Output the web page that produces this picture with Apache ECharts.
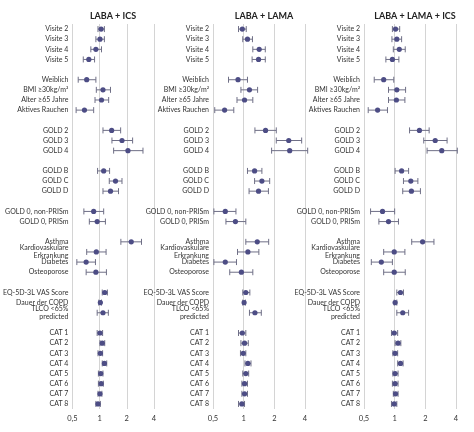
<!DOCTYPE html>
<html>
<head>
<meta charset="UTF-8">
<script src="https://cdn.jsdelivr.net/npm/echarts@6/dist/echarts.min.js"></script>
<style>html,body{margin:0;padding:0;background:#fff}#c{width:474px;height:432px}</style>
</head>
<body>
<div id="c"></div>
<script>
var titles = ['LABA + ICS', 'LABA + LAMA', 'LABA + LAMA + ICS'];
var categories = ['Visite 2', 'Visite 3', 'Visite 4', 'Visite 5', ' ',
  'Weiblich', 'BMI ≥30kg/m²', 'Alter ≥65 Jahre', 'Aktives Rauchen', '  ',
  'GOLD 2', 'GOLD 3', 'GOLD 4', '   ',
  'GOLD B', 'GOLD C', 'GOLD D', '    ',
  'GOLD 0, non-PRISm', 'GOLD 0, PRISm', '     ',
  'Asthma', 'Kardiovaskuläre\nErkrankung', 'Diabetes', 'Osteoporose', '      ',
  'EQ-5D-3L VAS Score', 'Dauer der COPD', 'TLCO <65%\npredicted', '       ',
  'CAT 1', 'CAT 2', 'CAT 3', 'CAT 4', 'CAT 5', 'CAT 6', 'CAT 7', 'CAT 8'];
var tickLabels = {0.5: '0,5', 1: '1', 2: '2', 4: '4'};

// [estimate, lower CI, upper CI]; null = spacer row
var labaIcs = [[1.04,0.96,1.13],[1.01,0.91,1.13],[0.91,0.80,1.05],[0.76,0.66,0.88],null,
  [0.72,0.58,0.91],[1.09,0.92,1.32],[1.05,0.89,1.26],[0.68,0.55,0.86],null,
  [1.36,1.09,1.71],[1.77,1.37,2.32],[2.06,1.43,3.02],null,
  [1.11,0.95,1.29],[1.50,1.28,1.77],[1.32,1.09,1.62],null,
  [0.86,0.67,1.11],[0.94,0.77,1.16],null,
  [2.24,1.72,2.91],[0.92,0.72,1.18],[0.71,0.56,0.90],[0.91,0.71,1.19],null,
  [1.14,1.07,1.22],[1.02,0.98,1.05],[1.09,0.94,1.25],null,
  [1.01,0.94,1.08],[1.07,1.01,1.14],[1.02,0.96,1.08],[1.13,1.07,1.20],
  [1.03,0.97,1.09],[1.04,0.97,1.10],[1.01,0.96,1.06],[0.96,0.91,1.02]];
var labaLama = [[0.97,0.89,1.06],[1.09,0.98,1.22],[1.42,1.23,1.63],[1.40,1.21,1.63],null,
  [0.88,0.71,1.09],[1.14,0.94,1.37],[1.02,0.86,1.23],[0.65,0.52,0.80],null,
  [1.64,1.29,2.09],[2.77,2.09,3.71],[2.83,1.88,4.25],null,
  [1.28,1.09,1.51],[1.51,1.28,1.80],[1.40,1.13,1.75],null,
  [0.66,0.51,0.84],[0.83,0.67,1.05],null,
  [1.36,1.05,1.76],[1.10,0.87,1.41],[0.66,0.51,0.85],[0.95,0.73,1.23],null,
  [1.05,0.98,1.15],[1.01,0.98,1.04],[1.29,1.14,1.49],null,
  [0.97,0.89,1.05],[1.02,0.94,1.11],[0.99,0.93,1.05],[1.10,1.03,1.18],
  [1.05,0.98,1.12],[1.02,0.96,1.09],[1.02,0.96,1.09],[0.96,0.89,1.02]];
var labaLamaIcs = [[1.02,0.95,1.12],[1.05,0.94,1.17],[1.11,0.97,1.27],[0.95,0.82,1.10],null,
  [0.78,0.63,0.98],[1.05,0.87,1.28],[1.04,0.87,1.26],[0.68,0.55,0.85],null,
  [1.75,1.40,2.18],[2.50,1.93,3.27],[2.90,2.08,4.12],null,
  [1.17,1.01,1.37],[1.44,1.22,1.69],[1.46,1.20,1.79],null,
  [0.76,0.58,1.00],[0.87,0.70,1.09],null,
  [1.88,1.47,2.43],[0.99,0.78,1.26],[0.74,0.59,0.95],[0.99,0.78,1.27],null,
  [1.14,1.05,1.22],[1.01,0.99,1.05],[1.20,1.05,1.37],null,
  [0.99,0.93,1.07],[1.08,1.01,1.15],[1.01,0.96,1.07],[1.14,1.07,1.21],
  [1.01,0.96,1.08],[1.01,0.95,1.08],[1.02,0.97,1.08],[0.99,0.93,1.05]];
var panels = [labaIcs, labaLama, labaLamaIcs];

var gridLefts = [62, 213, 364];
var font = 'Lato, "Open Sans", sans-serif';
var grids = [], xAxes = [], yAxes = [], series = [], titleOpts = [];

panels.forEach(function (vals, p) {
  grids.push({left: gridLefts[p], width: 92, top: 24, height: 385});
  titleOpts.push({text: titles[p], left: gridLefts[p] + 46, top: 7, textAlign: 'center',
    textStyle: {fontFamily: font, fontSize: 9, fontWeight: 'bold', color: '#222'}});
  xAxes.push({type: 'log', logBase: 2, min: 0.5, max: 4, gridIndex: p,
    axisLine: {show: false}, axisTick: {show: false},
    splitLine: {show: true, lineStyle: {color: '#d4d4d4', width: 1}},
    axisLabel: {fontFamily: font, fontSize: 7.5, color: '#333', margin: 6,
      formatter: function (v) { return tickLabels[v] || ''; }}});
  yAxes.push({type: 'category', data: categories, inverse: true, gridIndex: p,
    axisLine: {show: false}, axisTick: {show: false}, splitLine: {show: false},
    axisLabel: {fontFamily: font, fontSize: 7, color: '#333', margin: 4, interval: 0, lineHeight: 8}});
  var data = [];
  vals.forEach(function (v, i) { if (v) data.push([i, v[0], v[1], v[2]]); });
  series.push({type: 'custom', xAxisIndex: p, yAxisIndex: p, data: data,
    encode: {x: [1, 2, 3], y: 0},
    renderItem: function (params, api) {
      var y = api.coord([1, api.value(0)])[1];
      var c = api.coord([api.value(1), api.value(0)])[0];
      var l = api.coord([api.value(2), api.value(0)])[0];
      var h = api.coord([api.value(3), api.value(0)])[0];
      var ls = {stroke: '#6f6f86', lineWidth: 1};
      return {type: 'group', children: [
        {type: 'line', shape: {x1: l, y1: y, x2: h, y2: y}, style: ls},
        {type: 'line', shape: {x1: l, y1: y - 3, x2: l, y2: y + 3}, style: ls},
        {type: 'line', shape: {x1: h, y1: y - 3, x2: h, y2: y + 3}, style: ls},
        {type: 'circle', shape: {cx: c, cy: y, r: 2.6}, style: {fill: '#4d4d85'}}
      ]};
    }});
});

var chart = echarts.init(document.getElementById('c'));
chart.setOption({animation: false, title: titleOpts, grid: grids,
  xAxis: xAxes, yAxis: yAxes, series: series});
</script>
</body>
</html>
